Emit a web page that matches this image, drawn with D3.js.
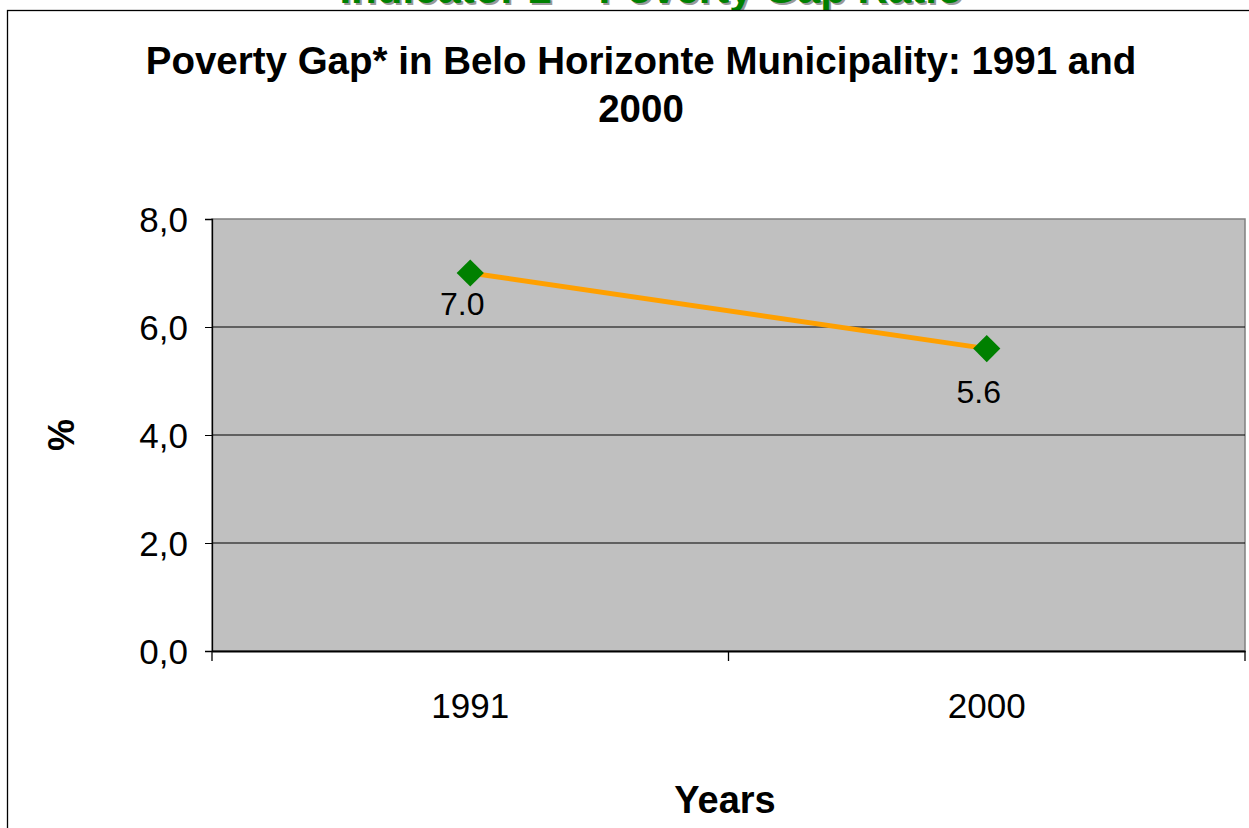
<!DOCTYPE html>
<html>
<head>
<meta charset="utf-8">
<script src="https://cdn.jsdelivr.net/npm/d3@7"></script>
<style>
  body { margin: 0; background: #fff; }
  text { font-family: "Liberation Sans", Arial, sans-serif; }
</style>
</head>
<body>
<svg class="chart"></svg>
<script>
var years = ["1991", "2000"];
var gapValues = [7.0, 5.6];
var yTicks = [0, 2, 4, 6, 8];

var width = 1249;
var height = 828;
var plot = { left: 212, right: 1245, top: 219, bottom: 651 };

var svg = d3.select(".chart")
	.attr("width", width)
	.attr("height", height);

// page heading, cut off at the top like the source
svg.append("text")
	.attr("x", 651).attr("y", 3)
	.attr("text-anchor", "middle")
	.attr("font-size", 42).attr("font-weight", "bold")
	.attr("fill", "#999")
	.attr("transform", "translate(2,2)")
	.text("Indicator 2 \u2013 Poverty Gap Ratio");
svg.append("text")
	.attr("x", 651).attr("y", 3)
	.attr("text-anchor", "middle")
	.attr("font-size", 42).attr("font-weight", "bold")
	.attr("fill", "#008000")
	.text("Indicator 2 \u2013 Poverty Gap Ratio");

// chart frame
svg.append("rect")
	.attr("x", 7.5).attr("y", 10.5)
	.attr("width", 1300).attr("height", 900)
	.attr("fill", "#fff")
	.attr("stroke", "#000").attr("stroke-width", 1.3);

var x = d3.scaleBand()
	.domain(years)
	.range([plot.left, plot.right]);

var y = d3.scaleLinear()
	.domain([0, 8])
	.range([plot.bottom, plot.top]);

// plot area
svg.append("rect")
	.attr("x", plot.left).attr("y", plot.top)
	.attr("width", plot.right - plot.left)
	.attr("height", plot.bottom - plot.top)
	.attr("fill", "#c0c0c0")
	.attr("stroke", "#808080").attr("stroke-width", 1.5);

// gridlines
svg.append("g")
	.selectAll("line")
	.data(yTicks.filter(function(d) { return d > 0 && d < 8; }))
	.enter()
	.append("line")
		.attr("x1", plot.left).attr("x2", plot.right)
		.attr("y1", function(d) { return y(d); })
		.attr("y2", function(d) { return y(d); })
		.attr("stroke", "#000").attr("stroke-width", 1);

// y axis
var yAxis = svg.append("g")
	.attr("transform", "translate(" + plot.left + ",0)")
	.call(d3.axisLeft(y)
		.tickValues(yTicks)
		.tickSize(7)
		.tickPadding(22)
		.tickFormat(function(d) { return d3.format(".1f")(d).replace(".", ","); }));
yAxis.select(".domain").attr("stroke", "#000").attr("stroke-width", 1.3);
yAxis.selectAll(".tick line").attr("stroke", "#000");
yAxis.selectAll("text")
	.attr("x", -24)
	.attr("font-size", 35)
	.attr("fill", "#000")
	.attr("dy", "0.36em")
	.style("font-family", "Liberation Sans, Arial, sans-serif");

// x axis
var xAxis = svg.append("g")
	.attr("transform", "translate(0," + plot.bottom + ")")
	.call(d3.axisBottom(x).tickSize(0).tickPadding(42));
xAxis.select(".domain").attr("stroke", "#000").attr("stroke-width", 2);
xAxis.selectAll("text")
	.attr("font-size", 35)
	.attr("fill", "#000")
	.style("font-family", "Liberation Sans, Arial, sans-serif");

var boundaries = [plot.left].concat(years.map(function(d) { return x(d) + x.bandwidth(); }));
xAxis.selectAll(".sep")
	.data(boundaries)
	.enter()
	.append("line")
		.attr("x1", function(d) { return d; })
		.attr("x2", function(d) { return d; })
		.attr("y1", 0).attr("y2", 10)
		.attr("stroke", "#000").attr("stroke-width", 1.3);

// series
var points = years.map(function(d, i) { return { year: d, value: gapValues[i] }; });

var line = d3.line()
	.x(function(d) { return x(d.year) + x.bandwidth() / 2; })
	.y(function(d) { return y(d.value); });

svg.append("path")
	.datum(points)
	.attr("d", line)
	.attr("fill", "none")
	.attr("stroke", "#ffa000")
	.attr("stroke-width", 5);

svg.append("g")
	.selectAll("path")
	.data(points)
	.enter()
	.append("path")
		.attr("d", d3.symbol().type(d3.symbolSquare).size(370))
		.attr("transform", function(d) {
			return "translate(" + (x(d.year) + x.bandwidth() / 2) + "," + y(d.value) + ") rotate(45)";
		})
		.attr("fill", "#008000");

svg.append("g")
	.selectAll("text")
	.data(points)
	.enter()
	.append("text")
		.attr("x", function(d) { return x(d.year) + x.bandwidth() / 2 - 8; })
		.attr("y", function(d, i) { return y(d.value) + (i === 0 ? 42 : 54); })
		.attr("text-anchor", "middle")
		.attr("font-size", 32)
		.text(function(d) { return d3.format(".1f")(d.value); });

// titles
svg.append("text")
	.attr("x", 641).attr("y", 74)
	.attr("text-anchor", "middle")
	.attr("font-size", 38.5).attr("font-weight", "bold")
	.text("Poverty Gap* in Belo Horizonte Municipality: 1991 and");
svg.append("text")
	.attr("x", 641).attr("y", 122)
	.attr("text-anchor", "middle")
	.attr("font-size", 38.5).attr("font-weight", "bold")
	.text("2000");

svg.append("text")
	.attr("x", 725).attr("y", 813)
	.attr("text-anchor", "middle")
	.attr("font-size", 38).attr("font-weight", "bold")
	.text("Years");

svg.append("text")
	.attr("transform", "translate(74,435) rotate(-90)")
	.attr("text-anchor", "middle")
	.attr("font-size", 36).attr("font-weight", "bold")
	.text("%");
</script>
</body>
</html>
